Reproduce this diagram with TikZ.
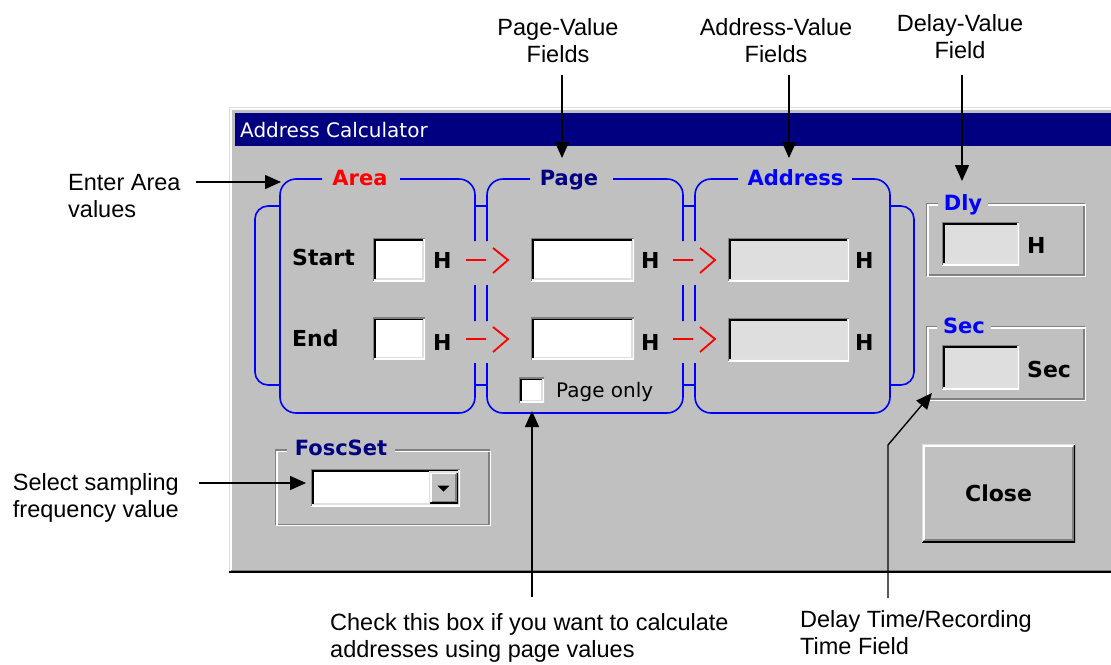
\documentclass[tikz,border=0pt]{standalone}
\usepackage{fontspec}
\setmainfont{Liberation Sans}
\newfontfamily\uifont{DejaVu Sans}
\usetikzlibrary{arrows.meta}

\definecolor{winbg}{RGB}{192,192,192}
\definecolor{wintitle}{RGB}{0,0,128}
\definecolor{winshadow}{RGB}{128,128,128}
\definecolor{winlight}{RGB}{223,223,223}
\definecolor{offfield}{RGB}{222,222,222}

\newcommand\callfont{\fontsize{23.5}{27}\selectfont}
\newcommand\titlefont{\uifont\fontsize{20}{24}\selectfont}
\newcommand\grpfont{\uifont\bfseries\fontsize{21}{25}\selectfont}
\newcommand\fieldfont{\uifont\bfseries\fontsize{22}{26}\selectfont}

\tikzset{
  % sunken edit field, 3D edges drawn inside the node
  sunken/.style={fill=#1, inner sep=0pt, path picture={
    \draw[white, line width=2.6pt] (path picture bounding box.south west) -| (path picture bounding box.north east);
    \draw[winlight, line width=1.3pt] ([shift={(1.95pt,1.95pt)}]path picture bounding box.south west) -| ([shift={(-1.95pt,-1.95pt)}]path picture bounding box.north east);
    \draw[winshadow, line width=2.6pt] (path picture bounding box.south west) |- (path picture bounding box.north east);
    \draw[black, line width=1.3pt] ([shift={(1.95pt,1.95pt)}]path picture bounding box.south west) |- ([shift={(-1.95pt,-1.95pt)}]path picture bounding box.north east);
  }},
  % raised button
  raised/.style={fill=winbg, inner sep=0pt, path picture={
    \draw[black, line width=2.6pt] (path picture bounding box.south west) -| (path picture bounding box.north east);
    \draw[winshadow, line width=1.3pt] ([shift={(1.95pt,1.95pt)}]path picture bounding box.south west) -| ([shift={(-1.95pt,-1.95pt)}]path picture bounding box.north east);
    \draw[winlight, line width=2.6pt] (path picture bounding box.south west) |- (path picture bounding box.north east);
    \draw[white, line width=1.3pt] ([shift={(1.95pt,1.95pt)}]path picture bounding box.south west) |- ([shift={(-1.95pt,-1.95pt)}]path picture bounding box.north east);
  }},
  % etched group frame
  groupframe/.style={inner sep=0pt, path picture={
    \draw[winshadow, line width=1.3pt] ([shift={(0.65pt,1.95pt)}]path picture bounding box.south west) rectangle ([shift={(-1.95pt,-0.65pt)}]path picture bounding box.north east);
    \draw[white, line width=1.3pt] ([shift={(1.95pt,0.65pt)}]path picture bounding box.south west) rectangle ([shift={(-0.65pt,-1.95pt)}]path picture bounding box.north east);
  }},
  flowarrow/.pic={\draw[red, line width=1.8pt] (0,0) -- (20,0) (27,-12) -- (42,0) -- (27,13);}
}

\begin{document}
\begin{tikzpicture}[x=1pt, y=-1pt,
  grp/.style={blue, line width=1.6pt, rounded corners=16pt},
  grplabel/.style={anchor=base, font=\grpfont, inner sep=0pt},
  fieldtext/.style={anchor=base west, font=\fieldfont, inner sep=0pt},
  calltext/.style={font=\callfont, inner sep=0pt},
  callout/.style={line width=1.4pt, -{Triangle[length=16pt,width=14pt]}}]
\useasboundingbox (0,0) rectangle (1111,664);

% window
\fill[winbg] (229,107) rectangle (1111,573);
\draw[winlight, line width=1.3pt] (229.65,573) -- (229.65,107.65) -- (1111,107.65);
\draw[white, line width=1.3pt] (230.95,571) -- (230.95,108.95) -- (1111,108.95);
\draw[winshadow, line width=1.3pt] (231,570.2) -- (1111,570.2);
\draw[black, line width=1.6pt] (229,572.2) -- (1111,572.2);
\fill[wintitle] (235,113) rectangle (1111,146);
\node[anchor=base west, white, font=\titlefont, inner sep=0pt] (title) at (240,137) {Address Calculator};

% Area / Page / Address frames
\draw[grp] (322,179) -- (280,179) -- (280,413) -- (475,413) -- (475,363)
  (475,321) -- (475,285) (475,241) -- (475,179) -- (400,179);
\draw[grp] (530,179) -- (487,179) -- (487,241) (487,285) -- (487,321)
  (487,363) -- (487,413) -- (683,413) -- (683,363) (683,321) -- (683,285)
  (683,241) -- (683,179) -- (613,179);
\draw[grp] (738,179) -- (695,179) -- (695,241) (695,285) -- (695,321)
  (695,363) -- (695,413) -- (890,413) -- (890,179) -- (852,179);
\draw[grp] (475,206) -- (487,206) (475,385) -- (487,385)
  (683,206) -- (695,206) (683,385) -- (695,385);
\draw[grp, rounded corners=13pt] (280,206) -- (255,206) -- (255,385) -- (280,385);
\draw[grp, rounded corners=13pt] (890,206) -- (914,206) -- (914,385) -- (890,385);
\node[grplabel, red] (arealabel) at (360,185) {Area};
\node[grplabel, wintitle] (pagelabel) at (569,185) {Page};
\node[grplabel, blue] (addrlabel) at (795.5,185) {Address};

% start / end rows
\node[fieldtext] (startlbl) at (292,265) {Start};
\node[fieldtext] (endlbl) at (292,346) {End};
\node[sunken=white, minimum width=52pt, minimum height=43pt] (areastart) at (399,259.5) {};
\node[sunken=white, minimum width=52pt, minimum height=42pt] (areaend) at (399,338.5) {};
\node[sunken=white, minimum width=103pt, minimum height=43pt] (pagestart) at (582.5,259.5) {};
\node[sunken=white, minimum width=103pt, minimum height=42pt] (pageend) at (582.5,338.5) {};
\node[sunken=offfield, minimum width=121pt, minimum height=43pt] (addrstart) at (788.5,259.5) {};
\node[sunken=offfield, minimum width=121pt, minimum height=43pt] (addrend) at (788.5,339.5) {};
\foreach \x/\n in {433/a,641/p,855/d} {
  \node[fieldtext] (h\n1) at (\x,268) {H};
  \node[fieldtext] (h\n2) at (\x,350) {H};
}
\foreach \x in {466,673}
  \foreach \y in {260,339}
    \pic at (\x,\y) {flowarrow};

\node[sunken=white, minimum width=25pt, minimum height=25pt] (pageonly) at (531.5,390) {};
\node[anchor=base west, font=\uifont\fontsize{20}{24}\selectfont, inner sep=0pt] (pageonlylbl) at (556,397) {Page only};

% Dly and Sec
\node[groupframe, minimum width=160pt, minimum height=74pt] (dlybox) at (1006,240) {};
\node[grplabel, blue, fill=winbg, inner xsep=6pt] (dlylabel) at (963,210) {Dly};
\node[sunken=offfield, minimum width=77pt, minimum height=43pt] (dlyedit) at (980.5,243.5) {};
\node[fieldtext] (dlyunit) at (1027,253) {H};
\node[groupframe, minimum width=160pt, minimum height=75pt] (secbox) at (1006,363.5) {};
\node[grplabel, blue, fill=winbg, inner xsep=6pt] (seclabel) at (964,333) {Sec};
\node[sunken=offfield, minimum width=77pt, minimum height=44pt] (secedit) at (980.5,367) {};
\node[fieldtext] (secunit) at (1027,377) {Sec};

% FoscSet
\node[groupframe, minimum width=216pt, minimum height=77pt] (foscbox) at (383,487.75) {};
\node[grplabel, wintitle, fill=winbg, inner xsep=8pt] (fosclabel) at (341,455) {FoscSet};
\node[sunken=white, minimum width=149pt, minimum height=37pt] (combo) at (385.5,487.5) {};
\node[raised, minimum width=29pt, minimum height=32pt] (dropbtn) at (443.5,487.5) {};
\fill ([xshift=-6pt,yshift=2pt]dropbtn.center) -- ++(12,0) -- ++(-6,6) -- cycle;

\node[raised, minimum width=153pt, minimum height=98pt, font=\fieldfont] (closebtn) at (998.5,493) {Close};

% callouts
\coordinate (areatip) at (281,182);
\coordinate (fosctip) at (306,483);
\coordinate (pagetip) at (562,158);
\coordinate (addrtip) at (789,158);
\coordinate (dlytip) at (962,181);
\coordinate (checktip) at (532,411);
\coordinate (sectip) at (932,393);
\coordinate (bend) at (888,445);

\node[calltext, anchor=north west, align=left] (enter) at (68,174) {Enter Area\\values};
\node[calltext, anchor=north west, align=left] (select) at (12.7,473) {Select sampling\\frequency value};
\node[calltext, anchor=north, align=center] (pageval) at (558,18) {Page-Value\\Fields};
\node[calltext, anchor=north, align=center] (addrval) at (776,18) {Address-Value\\Fields};
\node[calltext, anchor=north, align=center] (dlyval) at (960,14) {Delay-Value\\Field};
\node[calltext, anchor=north west, align=left] (check) at (330,613) {Check this box if you want to calculate\\addresses using page values};
\node[calltext, anchor=north west, align=left] (delay) at (800,610) {Delay Time/Recording\\Time Field};

\draw[callout] ([xshift=15pt]enter.east |- areatip) -- (areatip);
\draw[callout] ([xshift=20pt]select.east |- fosctip) -- (fosctip);
\draw[callout] ([yshift=-12pt]pageval.south -| pagetip) -- (pagetip);
\draw[callout] ([yshift=-12pt]addrval.south -| addrtip) -- (addrtip);
\draw[callout] ([yshift=-16pt]dlyval.south -| dlytip) -- (dlytip);
\draw[callout] ([yshift=16pt]check.north -| checktip) -- (checktip);
\draw[callout] ([yshift=12pt]delay.north -| bend) -- (bend) -- (sectip);
\end{tikzpicture}
\end{document}
